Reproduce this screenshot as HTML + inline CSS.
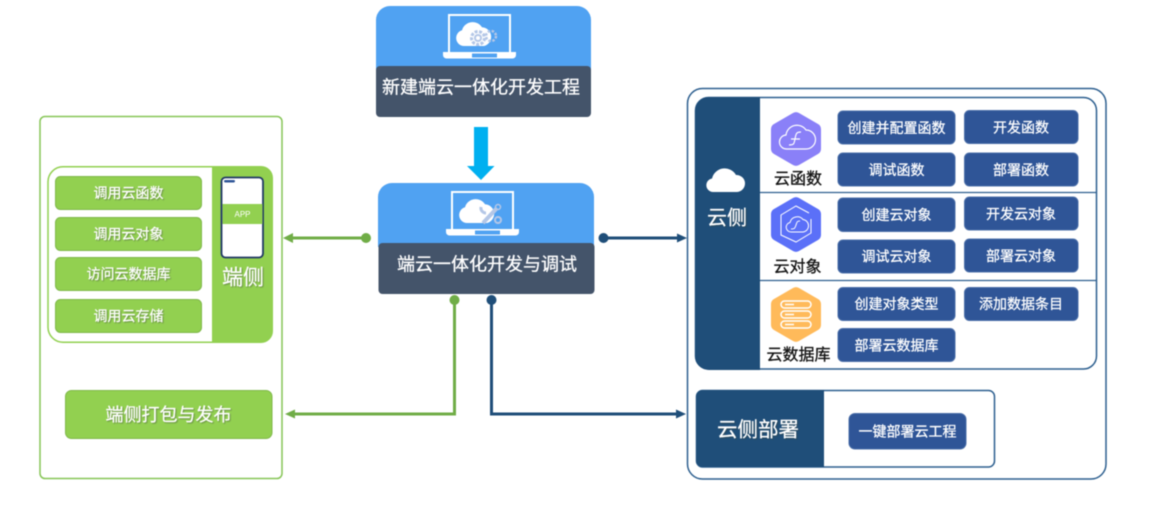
<!DOCTYPE html>
<html lang="zh">
<head>
<meta charset="utf-8">
<title>端云一体化开发</title>
<style>
html,body{margin:0;padding:0;background:#fff;width:1170px;height:505px;overflow:hidden}
svg{display:block;filter:blur(.4px)}
text{font-family:"Liberation Sans","Noto Sans CJK SC","WenQuanYi Zen Hei",sans-serif;text-anchor:middle;dominant-baseline:central;transform:translateY(.7px)}
.w,.w text{fill:#fff;stroke:#fff;stroke-width:.25px}
.k text{fill:#111;stroke:#111;stroke-width:.3px}
.s{filter:drop-shadow(1px 1px .6px rgba(60,70,60,.45))}
.gb{fill:#92d050;stroke:#7fb84a;stroke-width:1}
.bb{fill:#2f5597;stroke:#4a6ea8;stroke-width:1}
.t14,.t14 text{font-size:14px}.t18{font-size:18px}
</style>
</head>
<body>
<svg width="1170" height="505" viewBox="0 0 1170 505" xmlns="http://www.w3.org/2000/svg">
<defs>
<g id="laptop">
<rect x="1" y="1" width="61" height="38" fill="#50a2f2" stroke="#fff" stroke-width="2"/>
<path d="M-5 38H68V41a3.500 3.500 0 0 1-3.500 3.500H-1.500A3.500 3.500 0 0 1-5 41Z" fill="#fff"/>
<rect x="24" y="39.500" width="25" height="4" fill="#50a2f2"/>
<path d="M16 32a8 8 0 0 1-2-15.700a11 11 0 0 1 20-3a9.500 9.500 0 0 1 2 18.700Z" fill="#fff"/>
</g>
</defs>

<!-- top box -->
<path d="M376 70V20a14 14 0 0 1 14-14H577a14 14 0 0 1 14 14V70Z" fill="#50a2f2"/>
<rect x="376" y="66" width="215" height="51" rx="4" fill="#44546a"/>
<use href="#laptop" x="448" y="14"/>
<circle cx="491" cy="36" r="5" fill="none" stroke="#b4c7e7" stroke-width="2.500" stroke-dasharray="2.500 1.500"/>
<circle cx="478" cy="38" r="6.500" fill="#fff" stroke="#b4c7e7" stroke-width="3" stroke-dasharray="3 1.500"/>
<circle cx="478" cy="38" r="4" fill="#b4c7e7"/>
<circle cx="478" cy="38" r="2" fill="#fff"/>
<text x="481" y="87" class="t18 w">新建端云一体化开发工程</text>

<!-- arrow -->
<path d="M474 127H488V166H494.500L481 180L467 166H474Z" fill="#00b0f0"/>

<!-- second box -->
<path d="M378 247V197a14 14 0 0 1 14-14H580a14 14 0 0 1 14 14V247Z" fill="#50a2f2"/>
<rect x="378.500" y="243" width="216" height="51" rx="4" fill="#44546a"/>
<use href="#laptop" x="451" y="191"/>
<path d="M481 207a5 5 0 0 0 5 6" fill="none" stroke="#b4c7e7" stroke-width="3"/>
<path d="M483 223L497 208" stroke="#b4c7e7" stroke-width="4"/>
<circle cx="498" cy="207" r="2.500" fill="none" stroke="#b4c7e7" stroke-width="1.500"/>
<circle cx="498" cy="220" r="3" fill="none" stroke="#b4c7e7" stroke-width="2"/>
<text x="487" y="264" class="t18 w">端云一体化开发与调试</text>

<!-- left panel -->
<rect x="40" y="116.500" width="242" height="362" rx="5" fill="#fff" stroke="#86c556" stroke-width="1.500"/>
<path d="M212 166H261a12 12 0 0 1 12 12V331a12 12 0 0 1-12 12H212Z" fill="#92d050"/>
<path d="M212 166.800H63a15 15 0 0 0-15 15V327a15 15 0 0 0 15 15.200H212" fill="#fff" stroke="#92d050" stroke-width="1.500"/>
<rect class="gb" x="55.500" y="176.500" width="146" height="33" rx="5"/>
<rect class="gb" x="55.500" y="217.500" width="146" height="33" rx="5"/>
<rect class="gb" x="55.500" y="257.500" width="146" height="33" rx="5"/>
<rect class="gb" x="55.500" y="299.500" width="146" height="33" rx="5"/>
<g class="s t14 w">
<text x="128.500" y="192.500">调用云函数</text>
<text x="128.500" y="233.500">调用云对象</text>
<text x="128.500" y="273.500">访问云数据库</text>
<text x="128.500" y="315.500">调用云存储</text>
</g>
<rect x="221.500" y="177.500" width="41.500" height="80" rx="4" fill="#fff" stroke="#203864" stroke-width="1.800"/>
<rect x="222.500" y="204" width="40" height="20" fill="#92d050"/>
<rect x="224" y="180" width="11" height="2.500" rx="1.200" fill="#2f5597"/>
<text x="242.500" y="214" style="font-size:8px;fill:#fff">APP</text>
<text x="243" y="277.500" class="w s" style="font-size:21px">端侧</text>

<rect class="gb" x="65.500" y="390.500" width="206.500" height="48" rx="6"/>
<text x="168.500" y="414.500" class="t18 w s">端侧打包与发布</text>

<!-- connectors -->
<g fill="none" stroke-width="3">
<path d="M366 238H292" stroke="#70ad47"/>
<path d="M454.500 300V414H294" stroke="#70ad47"/>
<path d="M603 238H678" stroke="#1f4e79"/>
<path d="M491.500 300V414H677" stroke="#1f4e79"/>
</g>
<g fill="#70ad47">
<circle cx="366" cy="238" r="5"/>
<circle cx="454.500" cy="300" r="5"/>
<path d="M283 238L293 233V243Z"/>
<path d="M285 414L295 409.500V418.500Z"/>
</g>
<g fill="#1f4e79">
<circle cx="603.500" cy="238" r="5"/>
<circle cx="491.500" cy="300" r="5"/>
<path d="M687 238L677 233.500V242.500Z"/>
<path d="M686 414L676 409.500V418.500Z"/>
</g>

<!-- right panel -->
<rect x="687.500" y="88.500" width="418.500" height="390.500" rx="15" fill="#fff" stroke="#2d5f8f" stroke-width="1.500"/>
<rect x="695.500" y="97.500" width="401" height="271.500" rx="13" fill="#fff" stroke="#2d5f8f" stroke-width="1.500"/>
<path d="M760 97H709a14 14 0 0 0-14 14V356a14 14 0 0 0 14 14H760Z" fill="#1f4e79"/>
<path d="M760 192.500H1096M760 280.500H1096" stroke="#2d5f8f" stroke-width="1.300"/>
<path d="M713 192a6.800 6.800 0 0 1-1-13.500a13 13 0 0 1 24-3.500a8.500 8.500 0 0 1 1 17Z" fill="#fff"/>
<text x="727" y="218" class="w s" style="font-size:20px">云侧</text>

<!-- hexagons -->
<path d="M793 113a6 6 0 0 1 6 0L818 124a6 6 0 0 1 3 5V149a6 6 0 0 1-3 5L799 165a6 6 0 0 1-6 0L774 154a6 6 0 0 1-3-5V129a6 6 0 0 1 3-5Z" fill="#8a80f8"/>
<path d="M787 149a7 7 0 0 1-1-14a11 11 0 0 1 20-5a9.500 9.500 0 0 1 0 19Z" fill="none" stroke="#fff" stroke-width="1.200"/>
<path d="M789 145c5 0 5-1 6-6s1-7 6-7M791 139h9" fill="none" stroke="#fff" stroke-width="1.200"/>

<path d="M793 198a6 6 0 0 1 6 0L818 209a6 6 0 0 1 3 5V235a6 6 0 0 1-3 5L799 251a6 6 0 0 1-6 0L774 240a6 6 0 0 1-3-5V214a6 6 0 0 1 3-5Z" fill="#5b70f8"/>
<path d="M809 213L796 206L781 215V235L796 242L811 233V219" fill="none" stroke="#fff" stroke-width="1"/>
<path d="M791 232a4.800 4.800 0 0 1-1-9.500a7.500 7.500 0 0 1 13-3a6.300 6.300 0 0 1 0 12.500Z" fill="none" stroke="#fff" stroke-width="1"/>
<path d="M791 229c4 0 4-1 5-4s1-4 4-4" fill="none" stroke="#fff" stroke-width="1"/>

<path d="M793 288a6 6 0 0 1 6 0L818 299a6 6 0 0 1 3 5V325a6 6 0 0 1-3 5L799 341a6 6 0 0 1-6 0L774 330a6 6 0 0 1-3-5V304a6 6 0 0 1 3-5Z" fill="#ffba5a"/>
<g fill="none" stroke="#fff" stroke-width="1.500">
<rect x="781" y="301" width="30" height="7" rx="3.500"/>
<rect x="781" y="311" width="30" height="7" rx="3.500"/>
<rect x="781" y="321" width="30" height="7" rx="3.500"/>
<path d="M785 304.500H794M785 314.500H794M785 324.500H794"/>
</g>

<g class="k" style="font-size:16px">
<text x="798" y="179">云函数</text>
<text x="797.500" y="267">云对象</text>
<text x="798.500" y="355">云数据库</text>
</g>

<!-- blue buttons -->
<rect class="bb" x="838" y="111" width="117" height="33" rx="5"/>
<rect class="bb" x="964.500" y="110.500" width="113.500" height="33" rx="5"/>
<rect class="bb" x="838" y="153" width="117" height="33" rx="5"/>
<rect class="bb" x="964.500" y="153" width="113.500" height="33" rx="5"/>
<rect class="bb" x="838" y="198" width="117" height="33.500" rx="5"/>
<rect class="bb" x="964.500" y="197" width="113.500" height="33" rx="5"/>
<rect class="bb" x="838" y="240" width="117" height="33" rx="5"/>
<rect class="bb" x="964.500" y="239" width="113.500" height="33" rx="5"/>
<rect class="bb" x="838" y="287.500" width="117" height="33" rx="5"/>
<rect class="bb" x="964.500" y="287.500" width="113.500" height="33" rx="5"/>
<rect class="bb" x="838" y="328.500" width="117" height="33" rx="5"/>
<g class="t14 w">
<text x="896.500" y="127.500">创建并配置函数</text>
<text x="1021" y="127">开发函数</text>
<text x="896.500" y="169.500">调试函数</text>
<text x="1021" y="169.500">部署函数</text>
<text x="896.500" y="214.500">创建云对象</text>
<text x="1021" y="213.500">开发云对象</text>
<text x="896.500" y="256">调试云对象</text>
<text x="1021" y="255.500">部署云对象</text>
<text x="896.500" y="303.500">创建对象类型</text>
<text x="1021" y="303.500">添加数据条目</text>
<text x="896.500" y="345">部署云数据库</text>
</g>

<!-- deploy -->
<rect x="696.500" y="390.500" width="298" height="76.500" rx="6" fill="#fff" stroke="#2d5f8f" stroke-width="1.500"/>
<path d="M824 390H703a7 7 0 0 0-7 7V460a7 7 0 0 0 7 7H824Z" fill="#1f4e79"/>
<text x="758" y="429.500" class="w s" style="font-size:20.500px">云侧部署</text>
<rect class="bb" x="849" y="413.500" width="117" height="35.500" rx="6"/>
<text x="907.500" y="431" class="t14 w">一键部署云工程</text>
</svg>
</body>
</html>
